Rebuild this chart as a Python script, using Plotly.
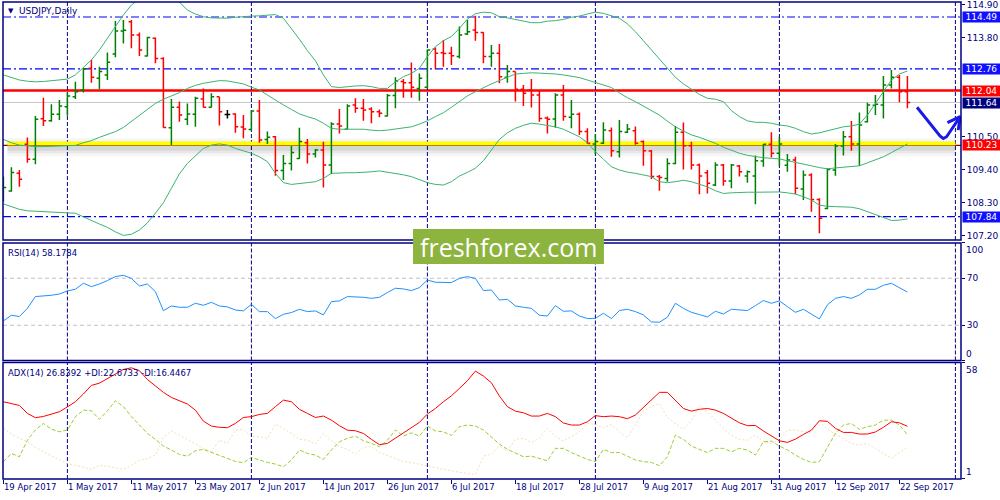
import pandas as pd
import plotly.graph_objects as go

# --- data -------------------------------------------------------------------
symbol = "USDJPY,Daily"
dates = [d.strftime("%d %b %Y").lstrip("0") for d in pd.bdate_range("2017-04-19", "2017-09-25")]
date_ticks = ["19 Apr 2017", "1 May 2017", "11 May 2017", "23 May 2017", "2 Jun 2017",
              "14 Jun 2017", "26 Jun 2017", "6 Jul 2017", "18 Jul 2017", "28 Jul 2017",
              "9 Aug 2017", "21 Aug 2017", "31 Aug 2017", "12 Sep 2017", "22 Sep 2017"]
month_grid = [8, 31, 53, 74, 97, 119]  # bar numbers of the month separators

opens = [108.50, 108.69, 109.28, 110.25, 109.75, 111.10, 111.03, 111.25, 111.50, 111.83,
         112.06, 112.78, 112.45, 112.56, 113.26, 114.02, 114.33, 113.89, 113.19, 113.78,
         113.11, 110.80, 111.48, 111.08, 111.25, 111.76, 111.48, 111.83, 111.24, 111.26,
         110.82, 110.74, 111.36, 110.41, 110.50, 109.37, 109.61, 109.77, 110.30, 109.92,
         110.06, 109.56, 110.92, 110.75, 111.56, 111.45, 111.42, 111.33, 111.19, 111.87,
         112.34, 112.30, 112.11, 112.15, 113.42, 113.30, 113.28, 113.17, 113.92, 114.06,
         113.97, 113.17, 113.28, 112.48, 112.67, 112.08, 112.06, 111.89, 111.12, 111.09,
         111.89, 111.15, 111.25, 110.67, 110.26, 110.28, 110.70, 110.00, 110.65, 110.70,
         110.34, 110.02, 109.17, 109.11, 109.61, 110.65, 110.20, 109.56, 109.30, 108.89,
         109.56, 109.02, 109.52, 109.19, 109.19, 109.69, 110.25, 109.95, 109.55, 109.72,
         108.76, 109.22, 108.41, 108.11, 109.39, 110.19, 110.50, 110.26, 111.00, 111.55,
         111.56, 112.22, 112.48, 112.00]
highs = [109.17, 109.48, 109.39, 110.47, 111.19, 111.80, 111.58, 111.72, 111.97, 112.33,
         112.78, 113.06, 112.83, 113.31, 114.36, 114.39, 114.39, 113.97, 113.83, 113.81,
         113.15, 111.76, 111.67, 111.61, 111.83, 112.11, 111.95, 111.83, 111.39, 111.28,
         111.22, 111.39, 111.72, 110.67, 110.52, 109.89, 110.19, 110.80, 110.42, 110.09,
         110.33, 110.98, 111.42, 111.58, 111.78, 111.76, 111.48, 111.41, 111.92, 112.48,
         112.42, 112.97, 112.61, 113.41, 113.47, 113.72, 113.50, 114.17, 114.39, 114.53,
         113.98, 113.56, 113.59, 112.89, 112.67, 112.22, 112.42, 112.06, 111.17, 111.95,
         112.22, 111.72, 111.31, 110.78, 110.59, 110.98, 110.81, 111.06, 110.92, 110.84,
         110.37, 110.06, 109.22, 109.78, 110.86, 110.97, 110.33, 109.61, 109.39, 109.65,
         109.59, 109.59, 109.56, 109.37, 109.87, 110.26, 110.65, 110.50, 109.92, 109.83,
         109.37, 109.28, 108.45, 109.45, 110.26, 110.69, 111.02, 111.31, 111.63, 111.89,
         112.52, 112.72, 112.56, 112.52]
lows = [108.33, 108.67, 108.83, 109.63, 109.58, 110.86, 111.00, 111.06, 111.20, 111.76,
        111.97, 112.30, 112.08, 112.39, 113.15, 113.61, 113.45, 113.19, 113.17, 112.95,
        110.80, 110.22, 111.00, 110.89, 110.83, 111.47, 111.47, 110.87, 111.11, 110.63,
        110.45, 110.70, 110.30, 110.26, 109.20, 109.06, 109.37, 109.76, 109.61, 109.81,
        108.81, 109.26, 110.61, 110.75, 111.30, 111.03, 110.95, 111.15, 111.17, 111.45,
        111.80, 111.80, 111.70, 112.11, 112.75, 112.83, 112.89, 113.11, 113.89, 113.70,
        112.95, 112.83, 112.28, 112.30, 111.67, 111.52, 111.47, 111.00, 110.61, 110.80,
        111.03, 110.78, 110.56, 110.26, 109.92, 110.26, 109.83, 109.81, 110.62, 110.23,
        109.53, 109.09, 108.70, 109.00, 109.58, 109.41, 109.41, 108.58, 108.61, 108.86,
        108.87, 108.78, 109.17, 108.97, 108.25, 109.50, 109.81, 109.53, 109.33, 108.58,
        108.39, 108.00, 107.28, 108.08, 109.20, 109.87, 110.03, 109.53, 110.97, 111.22,
        111.11, 112.11, 111.65, 111.45]
closes = [108.81, 109.31, 109.08, 109.75, 111.08, 111.03, 111.25, 111.52, 111.86, 112.00,
          112.76, 112.48, 112.67, 112.98, 114.02, 114.05, 113.89, 113.39, 113.81, 113.11,
          110.81, 111.48, 111.22, 111.26, 111.78, 111.48, 111.83, 111.33, 111.24, 110.83,
          110.76, 111.36, 110.39, 110.48, 109.37, 109.61, 109.97, 110.34, 109.92, 110.06,
          109.56, 110.92, 110.86, 111.52, 111.45, 111.39, 111.33, 111.28, 111.87, 112.36,
          112.30, 112.15, 112.45, 113.39, 113.28, 113.27, 113.20, 113.89, 114.00, 113.97,
          113.17, 113.28, 112.50, 112.67, 112.08, 111.95, 111.89, 111.11, 111.08, 111.89,
          111.17, 111.25, 110.67, 110.28, 110.34, 110.72, 110.03, 110.67, 110.76, 110.28,
          110.03, 109.17, 109.14, 109.61, 110.65, 110.20, 109.56, 109.19, 108.95, 109.56,
          109.02, 109.56, 109.33, 109.33, 109.70, 110.25, 109.95, 110.26, 109.72, 108.78,
          109.22, 108.41, 107.78, 109.41, 110.19, 110.50, 110.26, 110.89, 111.56, 111.58,
          112.22, 112.48, 112.00, 111.64]

bb_upper = [112.56, 112.47, 112.39, 112.35, 112.33, 112.34, 112.36, 112.39, 112.42, 112.56,
            112.80, 113.06, 113.39, 113.78, 114.17, 114.56, 114.89, 115.10, 115.25, 115.30,
            115.25, 115.10, 114.99, 114.72, 114.59, 114.50, 114.46, 114.45, 114.45, 114.48,
            114.51, 114.52, 114.53, 114.56, 114.57, 114.45, 114.11, 113.75, 113.37, 113.03,
            112.56, 112.17, 112.14, 112.17, 112.19, 112.20, 112.17, 112.11, 112.11, 112.33,
            112.50, 112.61, 112.78, 113.17, 113.50, 113.70, 113.84, 114.11, 114.42, 114.60,
            114.65, 114.63, 114.50, 114.46, 114.41, 114.36, 114.30, 114.30, 114.35, 114.37,
            114.41, 114.48, 114.52, 114.59, 114.65, 114.61, 114.52, 114.45, 114.26, 114.00,
            113.70, 113.39, 113.08, 112.78, 112.48, 112.26, 112.09, 111.91, 111.78, 111.75,
            111.67, 111.37, 111.17, 111.03, 110.98, 110.98, 110.95, 110.89, 110.86, 110.78,
            110.67, 110.59, 110.63, 110.70, 110.77, 110.83, 110.86, 110.92, 111.22, 111.61,
            112.00, 112.39, 112.59, 112.69]
bb_mid = [110.41, 110.30, 110.22, 110.19, 110.17, 110.17, 110.17, 110.19, 110.20, 110.21,
          110.30, 110.37, 110.48, 110.58, 110.67, 110.81, 111.00, 111.19, 111.41, 111.61,
          111.75, 111.86, 111.97, 112.11, 112.21, 112.28, 112.33, 112.37, 112.36, 112.32,
          112.26, 112.15, 112.06, 111.89, 111.72, 111.56, 111.41, 111.26, 111.17, 111.09,
          110.95, 110.78, 110.75, 110.75, 110.75, 110.75, 110.72, 110.70, 110.72, 110.75,
          110.78, 110.83, 110.92, 111.03, 111.17, 111.30, 111.48, 111.67, 111.86, 112.00,
          112.14, 112.26, 112.37, 112.48, 112.59, 112.61, 112.63, 112.62, 112.61, 112.59,
          112.56, 112.52, 112.47, 112.39, 112.30, 112.22, 112.14, 111.96, 111.80, 111.67,
          111.52, 111.36, 111.22, 111.02, 110.83, 110.69, 110.56, 110.48, 110.39, 110.28,
          110.15, 110.04, 109.95, 109.88, 109.83, 109.80, 109.78, 109.76, 109.70, 109.65,
          109.59, 109.53, 109.47, 109.43, 109.46, 109.48, 109.50, 109.53, 109.63, 109.72,
          109.83, 109.97, 110.11, 110.26]
bb_lower = [108.26, 108.17, 108.08, 108.03, 108.02, 108.01, 108.00, 107.99, 107.98, 107.95,
            107.83, 107.70, 107.59, 107.48, 107.33, 107.21, 107.25, 107.39, 107.63, 107.95,
            108.30, 108.78, 109.26, 109.61, 109.86, 110.11, 110.22, 110.26, 110.22, 110.11,
            110.03, 109.95, 109.83, 109.67, 109.28, 108.97, 108.91, 108.95, 108.97, 109.00,
            109.11, 109.28, 109.30, 109.30, 109.30, 109.31, 109.33, 109.36, 109.32, 109.28,
            109.23, 109.17, 109.06, 108.97, 108.91, 108.89, 109.00, 109.19, 109.31, 109.45,
            109.70, 110.06, 110.41, 110.63, 110.78, 110.88, 110.95, 110.92, 110.88, 110.83,
            110.75, 110.63, 110.50, 110.30, 110.00, 109.75, 109.50, 109.39, 109.32, 109.28,
            109.22, 109.17, 109.00, 108.97, 109.00, 109.05, 109.00, 108.92, 108.83, 108.70,
            108.61, 108.63, 108.65, 108.65, 108.65, 108.66, 108.67, 108.66, 108.63, 108.59,
            108.50, 108.39, 108.22, 108.18, 108.17, 108.17, 108.15, 108.10, 108.00, 107.89,
            107.81, 107.71, 107.72, 107.76]

rsi = [33.7, 38.5, 37.4, 44.4, 54.4, 54.9, 55.5, 56.6, 59.2, 60.6,
       65.7, 62.9, 65.1, 68.0, 71.4, 72.5, 69.9, 63.4, 65.1, 58.6,
       42.4, 46.4, 45.3, 45.3, 48.7, 47.0, 49.5, 46.4, 45.6, 43.0,
       42.2, 47.8, 41.6, 41.6, 35.7, 39.3, 40.8, 43.6, 41.6, 42.2,
       38.8, 50.1, 50.7, 54.4, 54.4, 53.8, 52.9, 53.8, 57.8, 61.5,
       60.9, 59.5, 62.0, 68.5, 66.6, 66.3, 66.3, 69.9, 71.4, 69.9,
       59.5, 60.0, 51.5, 52.1, 46.4, 45.3, 44.4, 38.5, 37.9, 46.7,
       41.9, 42.2, 37.9, 35.7, 35.9, 40.2, 35.7, 42.5, 43.6, 41.6,
       38.8, 32.8, 32.6, 36.8, 48.7, 44.4, 41.0, 39.1, 37.1, 41.9,
       39.6, 43.6, 43.0, 42.5, 46.7, 51.0, 48.7, 50.7, 45.9, 41.0,
       43.6, 39.6, 35.4, 47.3, 52.9, 54.4, 52.9, 55.8, 60.6, 60.6,
       64.0, 65.7, 61.7, 58.2]
adx = [38.8, 38.0, 37.0, 33.1, 31.0, 31.6, 32.9, 33.9, 36.3, 38.8,
       42.6, 46.8, 47.9, 50.2, 52.3, 54.6, 55.4, 54.0, 49.7, 46.5,
       43.4, 40.9, 39.3, 37.7, 34.7, 29.3, 26.9, 26.3, 26.1, 28.2,
       31.1, 31.5, 32.6, 33.1, 36.4, 39.6, 38.8, 35.1, 33.1, 31.1,
       31.8, 29.8, 27.1, 24.9, 24.6, 23.3, 20.4, 17.8, 18.4, 20.9,
       23.8, 26.3, 28.7, 32.8, 35.5, 38.8, 41.7, 45.3, 49.1, 53.8,
       51.4, 48.1, 41.6, 36.4, 34.2, 33.4, 31.8, 31.8, 33.1, 31.5,
       28.4, 27.4, 27.4, 29.0, 32.0, 31.5, 31.8, 31.5, 30.5, 32.3,
       36.0, 39.5, 43.4, 43.4, 39.6, 35.5, 34.2, 35.1, 35.5, 34.7,
       33.1, 31.0, 28.5, 27.1, 27.2, 24.5, 22.0, 19.7, 18.9, 20.5,
       22.8, 24.9, 29.5, 29.2, 25.8, 23.8, 23.8, 23.0, 23.0, 24.0,
       26.3, 29.0, 28.5, 26.8]
plus_di = [9.5, 13.5, 11.9, 20.0, 25.0, 28.2, 25.4, 24.1, 25.0, 31.5,
           34.7, 34.4, 30.2, 34.4, 39.3, 36.4, 31.5, 27.4, 23.3, 20.4,
           17.1, 15.2, 13.0, 12.2, 14.8, 15.5, 14.0, 12.7, 11.2, 9.6,
           9.0, 11.6, 10.3, 9.1, 8.3, 7.0, 10.3, 15.2, 13.5, 12.7,
           10.6, 15.2, 19.2, 20.9, 22.0, 19.7, 18.4, 16.8, 20.0, 25.0,
           22.0, 23.6, 22.0, 26.9, 24.5, 24.1, 22.3, 26.6, 27.4, 26.9,
           25.0, 21.7, 18.1, 15.5, 13.5, 11.9, 12.2, 11.1, 9.9, 16.0,
           16.0, 13.9, 12.2, 10.6, 9.5, 15.5, 13.9, 14.0, 12.2, 10.3,
           9.5, 9.1, 7.5, 11.9, 22.5, 20.4, 17.1, 15.5, 13.9, 16.0,
           16.0, 14.3, 16.0, 15.2, 12.7, 19.2, 19.6, 17.1, 15.2, 12.7,
           10.6, 9.1, 9.5, 16.5, 23.3, 27.4, 28.2, 25.3, 26.6, 27.4,
           29.8, 29.8, 27.4, 22.7]
minus_di = [25.8, 23.0, 20.9, 19.2, 16.5, 14.3, 12.4, 10.3, 8.5, 7.8,
            6.8, 5.7, 7.7, 7.2, 6.5, 5.7, 7.7, 10.1, 10.9, 12.7,
            21.4, 24.5, 22.5, 20.4, 18.4, 16.0, 14.5, 20.0, 18.4, 25.0,
            25.3, 21.7, 21.7, 20.9, 27.9, 25.8, 23.3, 20.4, 20.0, 18.1,
            23.3, 19.7, 16.8, 15.5, 13.2, 16.6, 16.8, 14.0, 12.4, 10.8,
            9.5, 9.1, 8.2, 7.2, 6.3, 5.7, 5.0, 4.2, 3.7, 3.2,
            12.2, 13.2, 17.1, 14.8, 20.4, 20.9, 18.8, 20.9, 25.8, 21.7,
            19.6, 21.7, 24.1, 28.2, 27.7, 26.1, 27.7, 24.1, 21.2, 27.4,
            34.4, 36.4, 38.0, 31.1, 28.2, 25.3, 29.5, 36.9, 33.9, 29.8,
            25.8, 22.5, 20.4, 20.0, 22.5, 19.2, 18.4, 20.0, 24.8, 24.9,
            24.1, 24.1, 29.3, 25.3, 23.0, 20.4, 18.4, 17.6, 18.4, 16.0,
            13.5, 11.1, 14.0, 16.5]

rsi_label = "RSI(14) 58.1784"
adx_label = "ADX(14) 26.8392 +DI:22.6733 -DI:16.4467"

dashdot_levels = [114.49, 112.76, 107.84]
red_level = 112.04
yellow_level = 110.23
bid_level = 111.64
price_ticks = [114.90, 113.80, 110.50, 109.40, 108.30, 107.20]
price_boxes = [(114.49, "#1010ff"), (112.76, "#1010ff"), (112.04, "#ff0000"),
               (111.64, "#000080"), (110.23, "#ff0000"), (107.84, "#1010ff")]

# hand drawn forecast arrow (bar number, price)
arrow_x = [114.2, 117.1, 117.5, 117.9, 119.6, None, 118.0, 119.6, 119.35]
arrow_y = [111.48, 110.52, 110.44, 110.50, 111.17, None, 110.97, 111.17, 110.72]

# --- figure -------------------------------------------------------------------
NAVY = "#000080"
FONT = "DejaVu Sans"
bar = list(range(len(dates)))
tick_bars = [dates.index(t) for t in date_ticks]

fig = go.Figure()

for band in (bb_upper, bb_mid, bb_lower):
    fig.add_trace(go.Scatter(x=bar, y=band, mode="lines",
                             line=dict(color="#3CB371", width=1), hoverinfo="skip"))

doji = [o == c for o, c in zip(opens, closes)]


def pick(vals, keep):
    return [v if k else None for v, k in zip(vals, keep)]


normal = [not d for d in doji]
fig.add_trace(go.Ohlc(x=bar, open=pick(opens, normal), high=pick(highs, normal),
                      low=pick(lows, normal), close=pick(closes, normal),
                      increasing=dict(line=dict(color="#008000", width=1.5)),
                      decreasing=dict(line=dict(color="#ff0000", width=1.5)),
                      tickwidth=0.35, hoverinfo="skip"))
fig.add_trace(go.Ohlc(x=bar, open=pick(opens, doji), high=pick(highs, doji),
                      low=pick(lows, doji), close=pick(closes, doji),
                      increasing=dict(line=dict(color="black", width=1.5)),
                      decreasing=dict(line=dict(color="black", width=1.5)),
                      tickwidth=0.35, hoverinfo="skip"))

fig.add_trace(go.Scatter(x=arrow_x, y=arrow_y, mode="lines",
                         line=dict(color="#1a1ae8", width=3), hoverinfo="skip"))

fig.add_trace(go.Scatter(x=bar, y=rsi, yaxis="y2", mode="lines",
                         line=dict(color="#1E90FF", width=1), hoverinfo="skip"))

fig.add_trace(go.Scatter(x=bar, y=minus_di, yaxis="y3", mode="lines",
                         line=dict(color="#F5DEB3", width=1, dash="2px,2px"), hoverinfo="skip"))
fig.add_trace(go.Scatter(x=bar, y=plus_di, yaxis="y3", mode="lines",
                         line=dict(color="#9ACD32", width=1, dash="4px,2px"), hoverinfo="skip"))
fig.add_trace(go.Scatter(x=bar, y=adx, yaxis="y3", mode="lines",
                         line=dict(color="#ff0000", width=1), hoverinfo="skip"))

shapes = []
# horizontal objects, drawn behind the bars
for w, a in ((18, 0.04), (12, 0.05), (7, 0.07)):
    shapes.append(dict(type="line", xref="x", yref="y", x0=0.5, x1=119, y0=yellow_level - 0.08,
                       y1=yellow_level - 0.08, layer="below",
                       line=dict(color=f"rgba(0,0,0,{a})", width=w)))
shapes.append(dict(type="line", xref="x", yref="y", x0=0.5, x1=119, y0=yellow_level + 0.04,
                   y1=yellow_level + 0.04, layer="below", line=dict(color="#ffff00", width=4)))
shapes.append(dict(type="line", xref="x domain", yref="y", x0=0, x1=1, y0=yellow_level - 0.02,
                   y1=yellow_level - 0.02, layer="below", line=dict(color="#8b0000", width=1.2)))
shapes.append(dict(type="line", xref="x domain", yref="y", x0=0, x1=1, y0=bid_level, y1=bid_level,
                   layer="below", line=dict(color="#c8c8c8", width=1)))
shapes.append(dict(type="line", xref="x domain", yref="y", x0=0, x1=1, y0=red_level, y1=red_level,
                   layer="below", line=dict(color="#ff0000", width=2.7)))
for lv in dashdot_levels:
    shapes.append(dict(type="line", xref="x domain", yref="y", x0=0, x1=1, y0=lv, y1=lv,
                       layer="below", line=dict(color="#0000ff", width=1.2, dash="8px,3px,2px,3px")))
for lv in (70, 30):
    shapes.append(dict(type="line", xref="x domain", yref="y2", x0=0, x1=1, y0=lv, y1=lv,
                       layer="below", line=dict(color="#c0c0c0", width=1, dash="4px,3px")))
# month separators in every window
for g in month_grid:
    for ya in ("y", "y2", "y3"):
        shapes.append(dict(type="line", xref="x", yref=f"{ya} domain", x0=g, x1=g, y0=0, y1=1,
                           layer="below", line=dict(color=NAVY, width=1, dash="4px,2px")))
# window frames
for ya in ("y", "y2", "y3"):
    shapes.append(dict(type="rect", xref="x domain", yref=f"{ya} domain", x0=0, x1=1, y0=0, y1=1,
                       layer="above", line=dict(color=NAVY, width=1.5)))
# watermark
shapes.append(dict(type="rect", xref="paper", yref="paper", x0=0.428, x1=0.6273, y0=0.4507,
                   y1=0.5241, layer="above", fillcolor="#8db43f", line=dict(width=0)))

annotations = [
    dict(text="▼", xref="paper", yref="y domain", x=0, y=1, xanchor="left", yanchor="top",
         xshift=3, yshift=-3, showarrow=False, font=dict(size=7, color=NAVY)),
    dict(text=symbol, xref="paper", yref="y domain", x=0, y=1, xanchor="left", yanchor="top",
         xshift=14, yshift=-2, showarrow=False, font=dict(size=9, color=NAVY)),
    dict(text=rsi_label, xref="paper", yref="y2 domain", x=0, y=1, xanchor="left",
         yanchor="top", xshift=3, yshift=-3, showarrow=False, font=dict(size=8.5, color=NAVY)),
    dict(text=adx_label, xref="paper", yref="y3 domain", x=0, y=1,
         xanchor="left", yanchor="top", xshift=3, yshift=-3, showarrow=False,
         font=dict(size=8.5, color=NAVY)),
    dict(text="100", xref="paper", yref="y2", x=1, y=100, xanchor="left", yanchor="top", xshift=3,
         showarrow=False, font=dict(size=9, color=NAVY)),
    dict(text="0", xref="paper", yref="y2", x=1, y=0, xanchor="left", yanchor="bottom", xshift=3,
         showarrow=False, font=dict(size=9, color=NAVY)),
    dict(text="58", xref="paper", yref="y3", x=1, y=58, xanchor="left", yanchor="top", xshift=3,
         showarrow=False, font=dict(size=9, color=NAVY)),
    dict(text="1", xref="paper", yref="y3", x=1, y=1, xanchor="left", yanchor="bottom", xshift=3,
         showarrow=False, font=dict(size=9, color=NAVY)),
    dict(text="freshforex.com", xref="paper", yref="paper", x=0.5277, y=0.4874, xanchor="center",
         yanchor="middle", showarrow=False, font=dict(family="Open Sans", size=25, color="white")),
]
for value, color in price_boxes:
    annotations.append(dict(text=f"{value:.2f}", xref="paper", yref="y", x=1, y=value,
                            xanchor="left", yanchor="middle", xshift=1, showarrow=False,
                            bgcolor=color, borderpad=0, width=37,
                            font=dict(size=9, color="white")))

axis_font = dict(family=FONT, size=9, color=NAVY)
fig.update_layout(
    width=1000, height=500,
    margin=dict(l=3, r=39, t=2, b=21, autoexpand=False),
    paper_bgcolor="white", plot_bgcolor="white",
    showlegend=False, hovermode=False,
    font=dict(family=FONT, size=9, color=NAVY),
    shapes=shapes, annotations=annotations,
    xaxis=dict(domain=[0, 1], range=[-0.05, 119.7], anchor="y3", showgrid=False, zeroline=False,
               tickvals=tick_bars, ticktext=date_ticks, ticks="outside", ticklen=4,
               tickangle=0, automargin=False, ticklabeloverflow="allow",
               tickcolor=NAVY, tickfont=dict(family=FONT, size=8.5, color=NAVY),
               ticklabelposition="outside right", rangeslider=dict(visible=False)),
    yaxis=dict(domain=[0.501, 1], range=[107.057, 114.99], side="right", anchor="x",
               showgrid=False, zeroline=False, tickvals=price_ticks, automargin=False,
               ticklabeloverflow="allow",
               ticktext=[f"{v:.2f}" for v in price_ticks], ticks="outside", ticklen=3,
               tickcolor=NAVY, tickfont=axis_font),
    yaxis2=dict(domain=[0.2484, 0.4948], range=[0, 100], side="right", anchor="x",
                showgrid=False, zeroline=False, tickvals=[100, 70, 30, 0], automargin=False,
                ticktext=["", "70", "30", ""], ticks="outside", ticklen=3, tickcolor=NAVY,
                tickfont=axis_font),
    yaxis3=dict(domain=[0, 0.2442], range=[1, 58], side="right", anchor="x",
                showgrid=False, zeroline=False, tickvals=[58, 1], ticktext=["", ""],
                automargin=False, ticks="outside", ticklen=3, tickcolor=NAVY, tickfont=axis_font),
)

# the page body has an 8px default margin; drop it so the chart sits at 0,0
fig.write_html("out.html", config={"displayModeBar": False},
               post_script="document.body.style.margin='0';")
